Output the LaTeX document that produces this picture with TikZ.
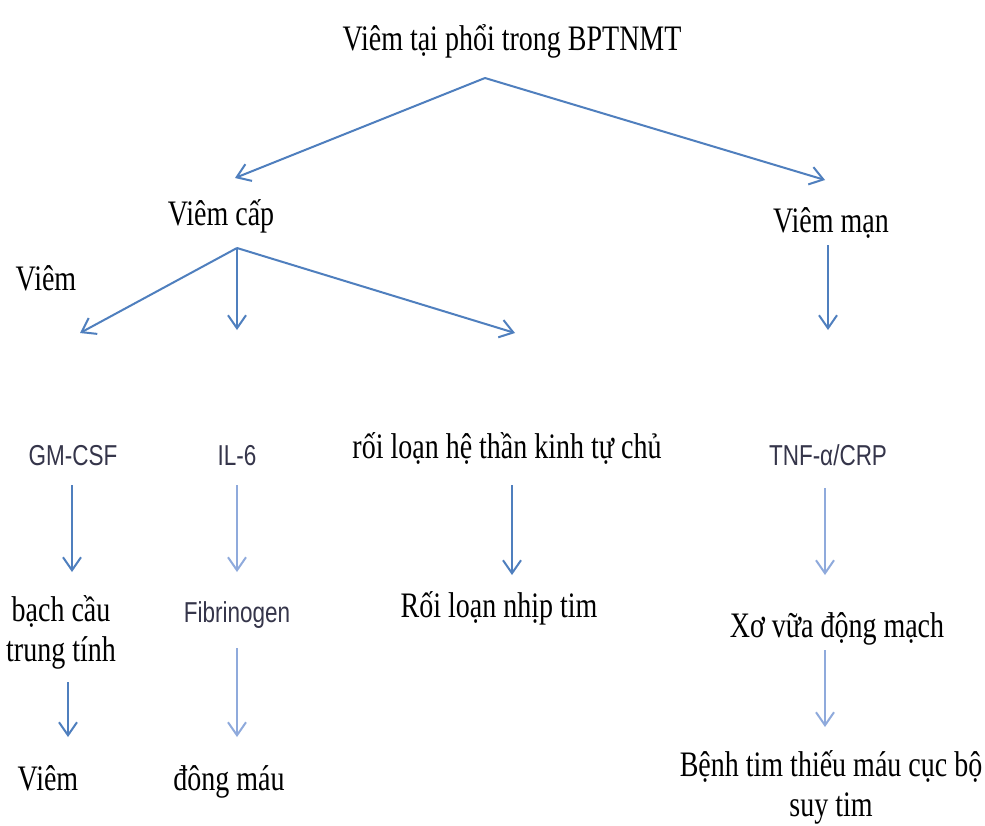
\documentclass[tikz,border=0pt]{standalone}
\usepackage{fontspec}
\setmainfont{Liberation Serif}
\newfontfamily\sansf{Liberation Sans}
\usetikzlibrary{arrows.meta}
\definecolor{arrA}{HTML}{4F7FBE}
\definecolor{arrB}{HTML}{8FAADC}
\definecolor{lab}{HTML}{35354A}
\newcommand\vs[1]{\scalebox{1}[1.28]{#1}}
\begin{document}
\begin{tikzpicture}[x=1pt,y=-1pt,
 ser/.style={anchor=base, inner sep=0pt, align=center, font=\fontsize{28}{40}\selectfont},
 san/.style={anchor=base, inner sep=0pt, text=lab, font=\sansf\fontsize{22.5}{26}\selectfont},
 arr/.style={draw=arrA, line width=2pt, -{Straight Barb[length=13pt,width=18pt]}},
 arrl/.style={arr, draw=arrB}]
\useasboundingbox[fill=white] (0,0) rectangle (985,825);

% nodes
\node[ser] (title) at (512,50) {\vs{Viêm tại phổi trong BPTNMT}};
\node[ser] (vcap) at (221,225) {\vs{Viêm cấp}};
\node[ser] (vman) at (831,232) {\vs{Viêm mạn}};
\node[ser] (viem1) at (46,290) {\vs{Viêm}};
\node[san] (gm) at (73,465) {\vs{GM-CSF}};
\node[san] (il) at (237,465) {\vs{IL-6}};
\node[ser] (roi) at (507,458) {\vs{rối loạn hệ thần kinh tự chủ}};
\node[san] (tnf) at (828,465) {\vs{TNF-α/CRP}};
\node[ser] (bach) at (61,661) {\vs{bạch cầu}\\\vs{trung tính}};
\node[san] (fib) at (237,622) {\vs{Fibrinogen}};
\node[ser] (rnt) at (499,617) {\vs{Rối loạn nhịp tim}};
\node[ser] (xo) at (837,637) {\vs{Xơ vữa động mạch}};
\node[ser] (benh) at (831,816) {\vs{Bệnh tim thiếu máu cục bộ}\\\vs{suy tim}};
\node[ser] (viem2) at (48,790) {\vs{Viêm}};
\node[ser] (dong) at (229,790) {\vs{đông máu}};

% connector end points
\coordinate (t0) at (485,78);
\coordinate (t1) at (235,178);
\coordinate (t2) at (825,180);
\coordinate (c0) at (237,248);
\coordinate (c1) at (80,333);
\coordinate (c2) at (237,330);
\coordinate (c3) at (515,333);
\coordinate (m0) at (828,245);
\coordinate (m1) at (828,330);
\coordinate (g0) at (72,485);
\coordinate (g1) at (72,572);
\coordinate (i0) at (237,485);
\coordinate (i1) at (237,572);
\coordinate (r0) at (512,485);
\coordinate (r1) at (512,575);
\coordinate (n0) at (825,488);
\coordinate (n1) at (825,575);
\coordinate (b0) at (68,682);
\coordinate (b1) at (68,737);
\coordinate (f0) at (237,648);
\coordinate (f1) at (237,737);
\coordinate (x0) at (825,650);
\coordinate (x1) at (825,727);

\draw[arr] (t0) -- (t1);
\draw[arr] (t0) -- (t2);
\draw[arr] (c0) -- (c1);
\draw[arr] (c0) -- (c2);
\draw[arr] (c0) -- (c3);
\draw[arr] (m0) -- (m1);
\draw[arr] (g0) -- (g1);
\draw[arrl] (i0) -- (i1);
\draw[arr] (r0) -- (r1);
\draw[arrl] (n0) -- (n1);
\draw[arr] (b0) -- (b1);
\draw[arrl] (f0) -- (f1);
\draw[arrl] (x0) -- (x1);
\end{tikzpicture}
\end{document}
